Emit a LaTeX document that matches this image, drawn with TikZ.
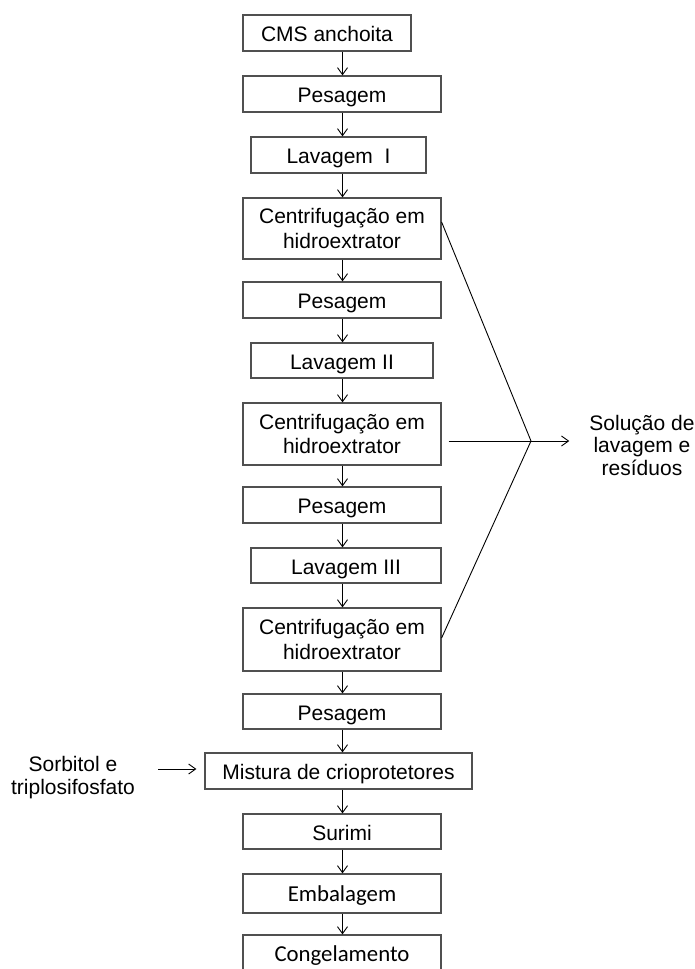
\documentclass[tikz,border=0pt]{standalone}
\usepackage{fontspec}
\setmainfont{Liberation Sans}
\newfontfamily\calib{Carlito}
\usetikzlibrary{arrows.meta,calc}

\definecolor{edgegray}{RGB}{80,80,80}

\tikzset{
  stepbox/.style={draw=edgegray, line width=1.2pt, rectangle, inner sep=0pt,
    align=center, font=\fontsize{21}{24.5}\selectfont},
  oneline/.style={text height=17.6pt, text depth=0pt},
  calbox/.style={stepbox, font=\calib\fontsize{22.8}{26}\selectfont,
    text height=15pt, text depth=0pt},
  flow/.style={draw=black, line width=0.9pt,
    -{Straight Barb[length=7pt,width=10pt,line width=0.9pt]}},
  wire/.style={draw=black, line width=0.9pt},
  sidetext/.style={inner sep=0pt, align=center}
}

\begin{document}
\begin{tikzpicture}[x=1pt,y=-1pt]
  \useasboundingbox (0,0) rectangle (694,969);
  \clip (0,0) rectangle (694,969);

  % main process column
  \node[stepbox,oneline,minimum width=168,minimum height=36] (b1)  at (327,33)     {CMS anchoita};
  \node[stepbox,oneline,minimum width=198,minimum height=36] (b2)  at (342,94)     {Pesagem};
  \node[stepbox,oneline,minimum width=175,minimum height=36] (b3)  at (338.5,155)  {Lavagem~~I};
  \node[stepbox,minimum width=198,minimum height=61]         (b4)  at (342,228.5)  {Centrifugação em\\hidroextrator};
  \node[stepbox,oneline,minimum width=198,minimum height=36] (b5)  at (342,300)    {Pesagem};
  \node[stepbox,oneline,minimum width=182,minimum height=35] (b6)  at (342,360.5)  {Lavagem II};
  \node[stepbox,minimum width=198,minimum height=62]         (b7)  at (342,434)    {Centrifugação em\\hidroextrator};
  \node[stepbox,oneline,minimum width=198,minimum height=36] (b8)  at (342,505)    {Pesagem};
  \node[stepbox,oneline,minimum width=190,minimum height=35] (b9)  at (346,565.5)  {Lavagem III};
  \node[stepbox,minimum width=198,minimum height=63]         (b10) at (342,639.5)  {Centrifugação em\\hidroextrator};
  \node[stepbox,oneline,minimum width=198,minimum height=35] (b11) at (342,711.5)  {Pesagem};
  \node[stepbox,oneline,minimum width=267,minimum height=36] (b12) at (338.5,771)  {Mistura de crioprotetores};
  \node[stepbox,oneline,minimum width=198,minimum height=35] (b13) at (342,831.5)  {Surimi};
  \node[calbox,minimum width=198,minimum height=39]          (b14) at (342,893.5)  {Embalagem};
  \node[calbox,minimum width=198,minimum height=38]          (b15) at (342,954)    {Congelamento};

  % side texts
  \node[sidetext,font=\fontsize{21}{22.5}\selectfont] (sol) at (642,445)
    {Solução de\\lavagem e\\resíduos};
  \node[sidetext,font=\fontsize{21}{23}\selectfont] (sorb) at (73,778)
    {Sorbitol e\\triplosifosfato};

  % vertical flow arrows
  \coordinate (ax) at (342.5,0);
  \foreach \a/\b in {b1/b2,b2/b3,b3/b4,b4/b5,b5/b6,b6/b7,b7/b8,b8/b9,
                     b9/b10,b10/b11,b11/b12,b12/b13,b13/b14,b14/b15}
    \draw[flow] (\a.south -| ax) -- (\b.north -| ax);

  % discharge of washing water from the three centrifuges
  \coordinate (jn) at (531,441);
  \draw[wire] ([yshift=6.5pt]b4.east) -- (jn);
  \draw[wire] ([yshift=1.5pt]b10.east) -- (jn);
  \draw[flow] ($(b7.east |- jn)+(7,0)$) -- ([xshift=-20pt]sol.west |- jn);

  % cryoprotectant input
  \draw[flow] ($(sorb.east)+(23,-9)$) -- ($(b12.west)+(-8,-2)$);
\end{tikzpicture}
\end{document}
